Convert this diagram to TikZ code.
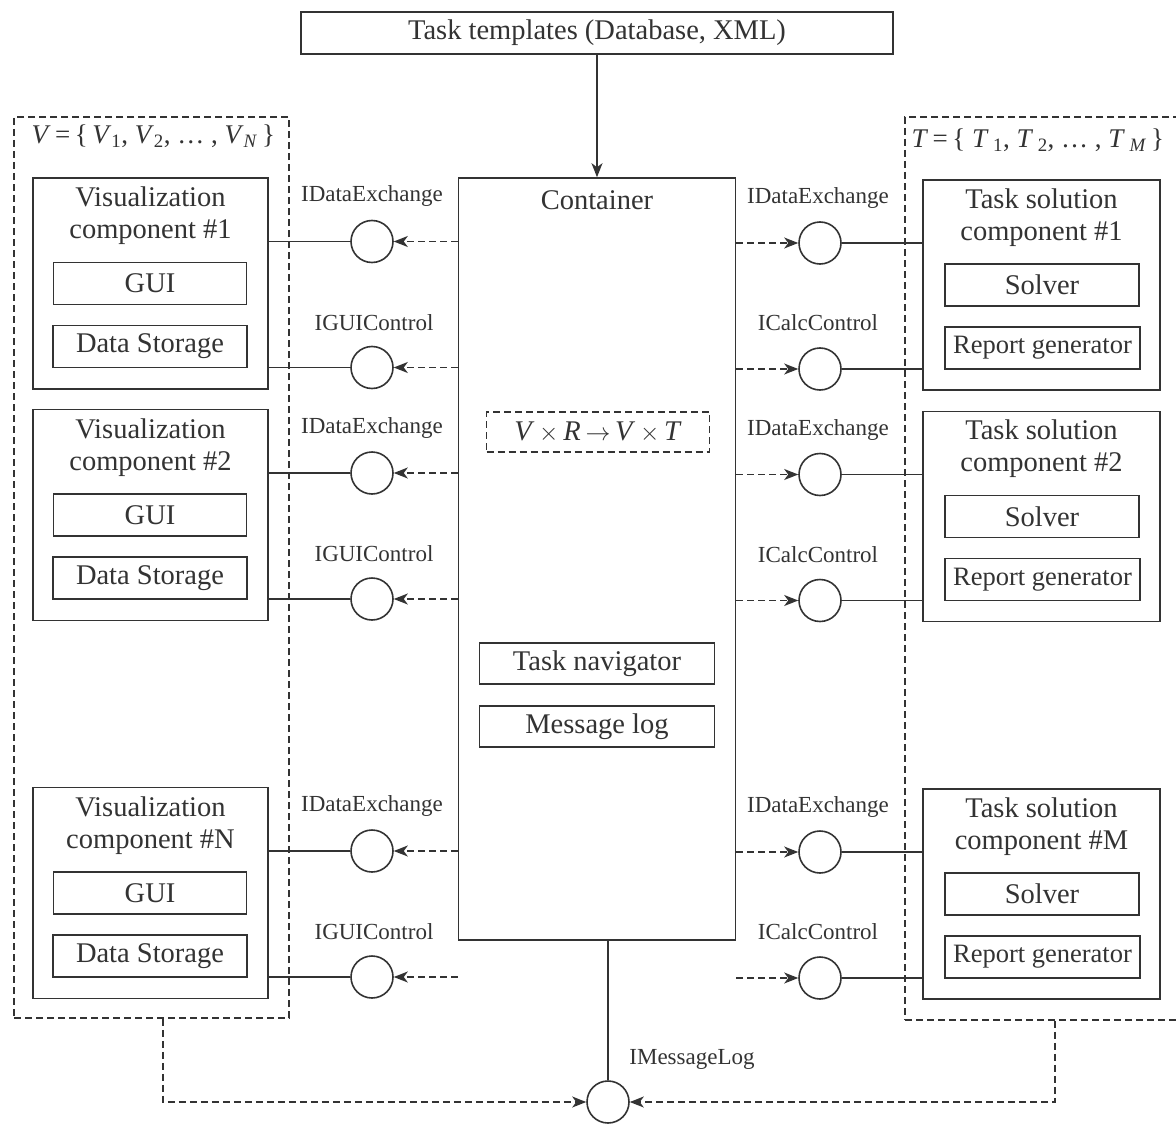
\documentclass[tikz,border=0pt]{standalone}
\usepackage{fontspec}
\setmainfont{Liberation Serif}
\usetikzlibrary{arrows.meta}
\colorlet{ink}{black!80}
\tikzset{
  every node/.style={text=ink},
  mainfont/.style={font=\fontsize{28.5}{32}\selectfont},
  setfont/.style={font=\fontsize{27}{32}\selectfont},
  repfont/.style={font=\fontsize{26.5}{32}\selectfont},
  lblfont/.style={font=\fontsize{23}{26}\selectfont},
  bx/.style={draw=ink, line width=1.6pt, rectangle, inner sep=0pt},
  iface/.style={draw=ink, line width=1.6pt, circle, minimum size=42pt, inner sep=0pt},
  dashln/.style={dash pattern=on 7pt off 4pt},
  arr/.style={-{Stealth[length=14pt,width=11pt,inset=4pt]}},
  conn/.style={draw=ink, line width=1.6pt},
}
\begin{document}
\begin{tikzpicture}[x=1pt,y=-1pt]
\fill[white] (0,0) rectangle (1176,1124);
\useasboundingbox (0,0) rectangle (1176,1124);
\clip (0,0) rectangle (1176,1124);

% top box
\node[bx, mainfont, minimum width=592pt, minimum height=42pt] (tpl) at (597,33) {Task templates (Database, XML)};

% groups
\node[bx, dashln, minimum width=275pt, minimum height=901pt] (lgrp) at (151.5,567.5) {};
\node[bx, dashln, minimum width=280pt, minimum height=903pt] (rgrp) at (1045,568.5) {};
\node[setfont, anchor=west] (lgl) at (28,136) {\textit{V}\,=\,\{\,\textit{V}\textsubscript{1}, \textit{V}\textsubscript{2}, \ldots\ , \textit{V}\textsubscript{\textit{N}}\,\}};
\node[setfont, anchor=west] (rgl) at (908,140) {\textit{T}\,=\,\{ \textit{T}\,\textsubscript{1}, \textit{T}\,\textsubscript{2}, \ldots\ , \textit{T}\,\textsubscript{\textit{M}}\,\}};

% container
\node[bx, minimum width=277pt, minimum height=762pt] (cont) at (597,559) {};
\node[mainfont] (contl) at (597,200) {Container};
\node[bx, dashln, mainfont, minimum width=223pt, minimum height=40pt] (form) at (598,432) {\textit{V}\,\ensuremath{\times}\,\textit{R}\,\ensuremath{\rightarrow}\,\textit{V}\,\ensuremath{\times}\,\textit{T}};
\node[bx, mainfont, minimum width=235pt, minimum height=41pt] (nav) at (597,663.5) {Task navigator};
\node[bx, mainfont, minimum width=235pt, minimum height=41pt] (mlog) at (597,726.5) {Message log};

\draw[conn, arr] (tpl.south) -- (cont.north);

% visualization components
\foreach \n/\cy/\t in {1/283.5/{Visualization\\component \#1}, 2/515/{Visualization\\component \#2}, 3/893/{Visualization\\component \#N}} {
  \node[bx, minimum width=235pt, minimum height=211pt] (v\n) at (150.5,\cy) {};
  \node[mainfont, align=center] (vt\n) at (150.5,\cy-67.5) {\t};
  \node[bx, mainfont, minimum width=193pt, minimum height=42pt] (gui\n) at (150,\cy) {GUI};
  \node[bx, mainfont, minimum width=194pt, minimum height=42pt] (ds\n) at (150,\cy+63) {Data Storage};
  \node[iface] (lc\n) at (372,\cy-42) {};
  \node[iface] (lg\n) at (372,\cy+84) {};
  \node[lblfont] (lcl\n) at (372,\cy-87) {IDataExchange};
  \node[lblfont] (lgl\n) at (374,\cy+39) {IGUIControl};
  \draw[conn] (v\n.east |- lc\n) -- (lc\n.west);
  \draw[conn] (v\n.east |- lg\n) -- (lg\n.west);
  \draw[conn, dashln, arr] (cont.west |- lc\n) -- (lc\n.east);
  \draw[conn, dashln, arr] (cont.west |- lg\n) -- (lg\n.east);
}

% task solution components
\foreach \n/\cy/\t in {1/285/{Task solution\\component \#1}, 2/516.5/{Task solution\\component \#2}, 3/894/{Task solution\\component \#M}} {
  \node[bx, minimum width=237pt, minimum height=210pt] (t\n) at (1041.5,\cy) {};
  \node[mainfont, align=center] (tt\n) at (1041.5,\cy-67.5) {\t};
  \node[bx, mainfont, minimum width=194pt, minimum height=42pt] (sol\n) at (1042,\cy) {Solver};
  \node[bx, repfont, minimum width=195pt, minimum height=42pt] (rep\n) at (1042.5,\cy+63) {Report generator};
  \node[iface] (rc\n) at (820,\cy-42) {};
  \node[iface] (rk\n) at (820,\cy+84) {};
  \node[lblfont] (rcl\n) at (818,\cy-87) {IDataExchange};
  \node[lblfont] (rkl\n) at (818,\cy+38) {ICalcControl};
  \draw[conn] (rc\n.east) -- (t\n.west |- rc\n);
  \draw[conn] (rk\n.east) -- (t\n.west |- rk\n);
  \draw[conn, dashln, arr] (cont.east |- rc\n) -- (rc\n.west);
  \draw[conn, dashln, arr] (cont.east |- rk\n) -- (rk\n.west);
}

% message log interface
\node[iface] (ml) at (608,1102) {};
\node[lblfont] (mll) at (692,1059) {IMessageLog};
\draw[conn] (cont.south -| ml) -- (ml.north);
\coordinate (lb) at (163,0);
\coordinate (rb) at (1055,0);
\draw[conn, dashln, arr] (lgrp.south -| lb) |- (ml.west);
\draw[conn, dashln, arr] (rgrp.south -| rb) |- (ml.east);
\end{tikzpicture}
\end{document}
